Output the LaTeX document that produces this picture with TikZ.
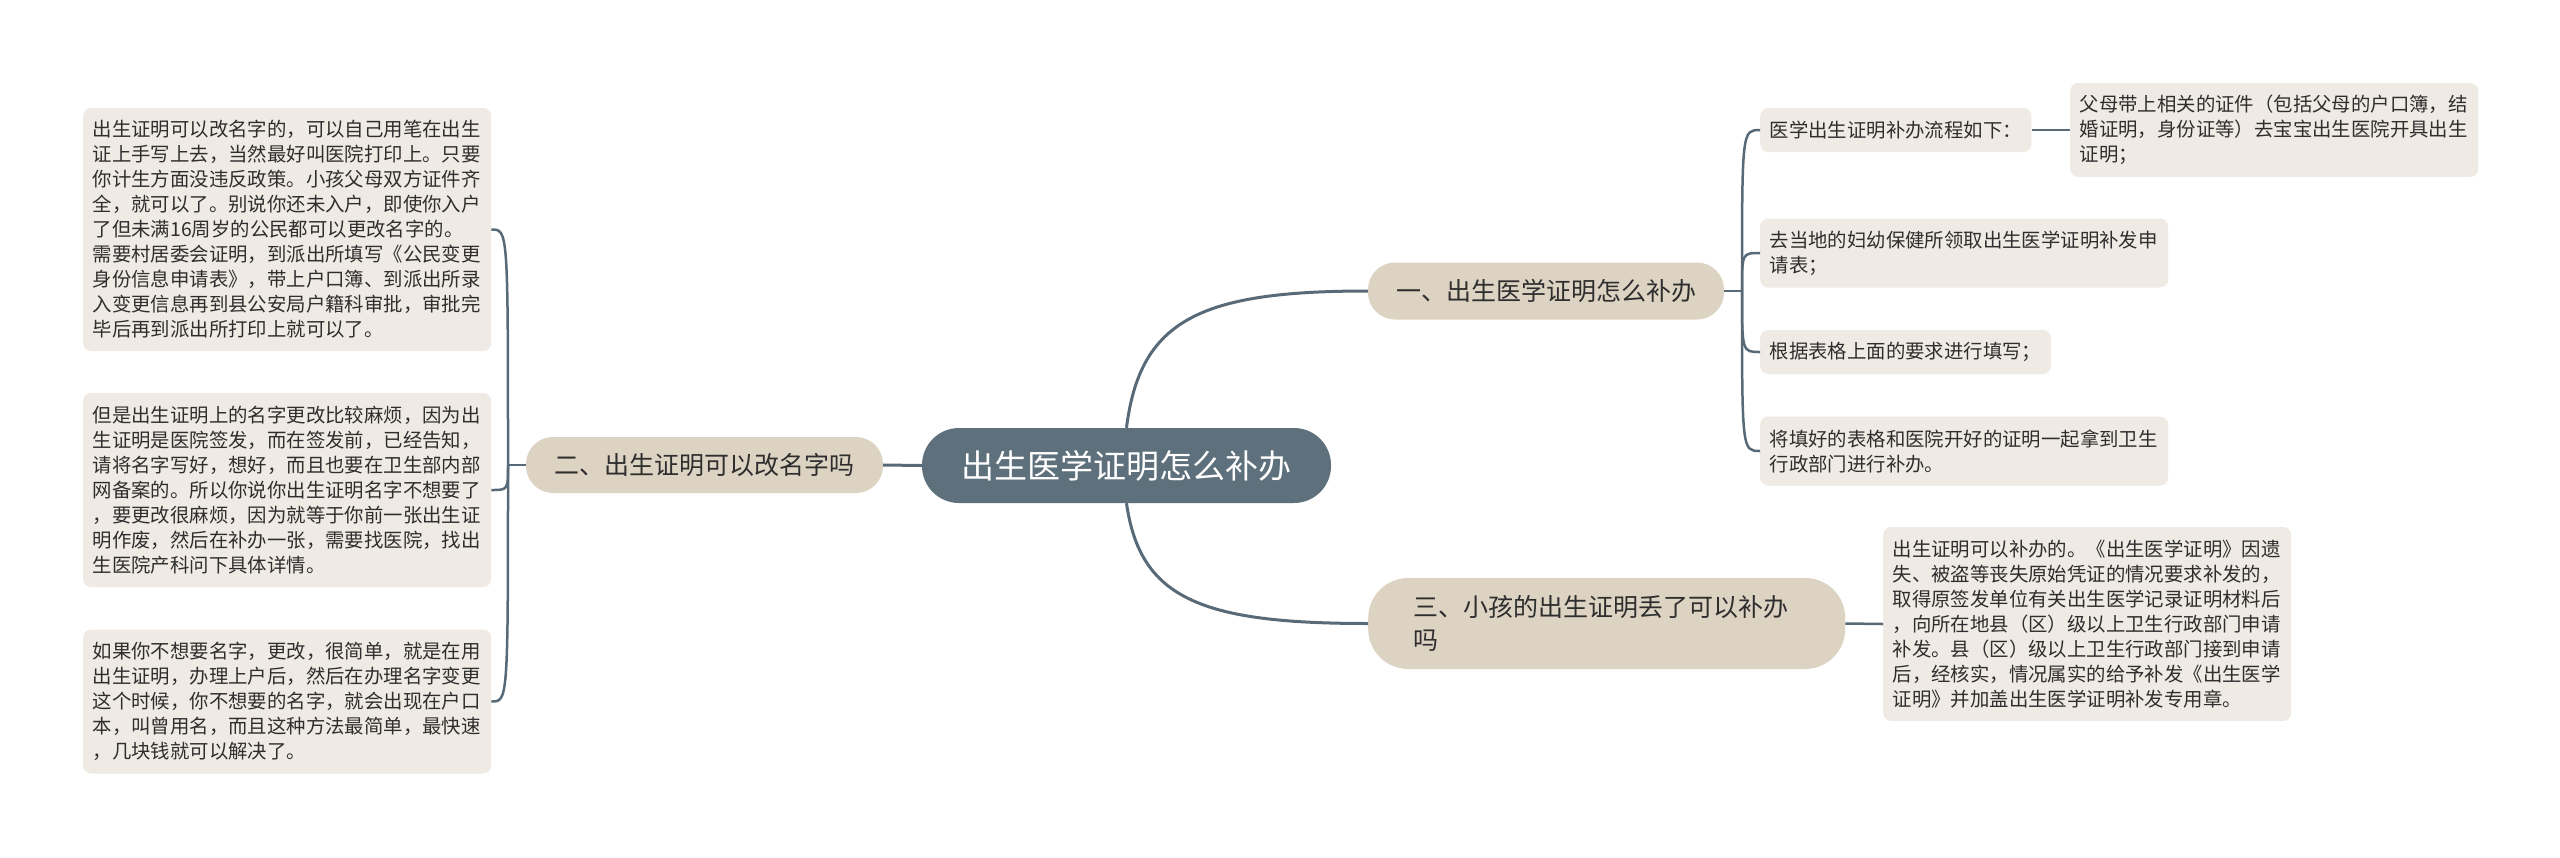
\documentclass[tikz,border=0pt]{standalone}
\usepackage{fontspec}
\newfontfamily\cjk{Noto Sans CJK SC}
\definecolor{leafc}{HTML}{EFEBE4}
\definecolor{branchc}{HTML}{DDD3C3}
\definecolor{rootc}{HTML}{5D707C}
\definecolor{linec}{HTML}{586A77}
\definecolor{txtc}{HTML}{2E2E2E}
\tikzset{
  leaf/.style={fill=leafc, rounded corners=8pt, align=left, anchor=west,
    font=\cjk\fontsize{19.4pt}{25pt}\selectfont, text=txtc,
    inner xsep=9.5pt, inner ysep=0pt},
  wide/.style={text width=389pt},
  branch/.style={fill=branchc, rounded corners=27pt, anchor=center,
    font=\cjk\fontsize{25pt}{33pt}\selectfont, text=txtc, inner sep=0pt},
  rootbox/.style={fill=rootc, rounded corners=37pt, anchor=center,
    font=\cjk\fontsize{33pt}{40pt}\selectfont, text=white, inner sep=0pt,
    minimum width=409pt, minimum height=75pt},
  mainline/.style={draw=linec, line width=3pt},
  leafline/.style={draw=linec, line width=2.5pt},
}
\begin{document}
\begin{tikzpicture}[x=1pt,y=-1pt]
\useasboundingbox[fill=white] (0,0) rectangle (2560,857);

% root and branches
\node[rootbox] (root) at (1126.5,465.5) {出生医学证明怎么补办};
\node[branch, minimum width=356pt, minimum height=57pt] (b1) at (1546,291) {一、出生医学证明怎么补办};
\node[branch, minimum width=357pt, minimum height=56pt] (b2) at (704.5,465) {二、出生证明可以改名字吗};
\node[branch, rounded corners=40pt, anchor=west, align=left, text width=387pt,
      inner xsep=45pt, inner ysep=0pt, minimum height=91pt] (b3) at (1368,623.5)
  {三、小孩的出生证明丢了可以补办\\吗};

% right leaves of branch 1
\node[leaf, minimum height=44pt] (r1a) at (1760,130) {医学出生证明补办流程如下：};
\node[leaf, wide, minimum height=94pt] (r1a1) at (2070,130)
  {父母带上相关的证件（包括父母的户口簿，结\\婚证明，身份证等）去宝宝出生医院开具出生\\证明；};
\node[leaf, wide, minimum height=69pt] (r1b) at (1760,253)
  {去当地的妇幼保健所领取出生医学证明补发申\\请表；};
\node[leaf, minimum height=44pt] (r1c) at (1760,352) {根据表格上面的要求进行填写；};
\node[leaf, wide, minimum height=69pt] (r1d) at (1760,451)
  {将填好的表格和医院开好的证明一起拿到卫生\\行政部门进行补办。};

% leaf of branch 3
\node[leaf, wide, minimum height=194pt] (r3a) at (1883,624)
  {出生证明可以补办的。《出生医学证明》因遗\\失、被盗等丧失原始凭证的情况要求补发的，\\取得原签发单位有关出生医学记录证明材料后\\，向所在地县（区）级以上卫生行政部门申请\\补发。县（区）级以上卫生行政部门接到申请\\后，经核实，情况属实的给予补发《出生医学\\证明》并加盖出生医学证明补发专用章。};

% left leaves of branch 2
\node[leaf, wide, minimum height=243pt] (l1) at (83,229.5)
  {出生证明可以改名字的，可以自己用笔在出生\\证上手写上去，当然最好叫医院打印上。只要\\你计生方面没违反政策。小孩父母双方证件齐\\全，就可以了。别说你还未入户，即使你入户\\了但未满16周岁的公民都可以更改名字的。\\需要村居委会证明，到派出所填写《公民变更\\身份信息申请表》，带上户口簿、到派出所录\\入变更信息再到县公安局户籍科审批，审批完\\毕后再到派出所打印上就可以了。};
\node[leaf, wide, minimum height=194pt] (l2) at (83,490)
  {但是出生证明上的名字更改比较麻烦，因为出\\生证明是医院签发，而在签发前，已经告知，\\请将名字写好，想好，而且也要在卫生部内部\\网备案的。所以你说你出生证明名字不想要了\\，要更改很麻烦，因为就等于你前一张出生证\\明作废，然后在补办一张，需要找医院，找出\\生医院产科问下具体详情。};
\node[leaf, wide, minimum height=144pt] (l3) at (83,701.5)
  {如果你不想要名字，更改，很简单，就是在用\\出生证明，办理上户后，然后在办理名字变更\\这个时候，你不想要的名字，就会出现在户口\\本，叫曾用名，而且这种方法最简单，最快速\\，几块钱就可以解决了。};

% junctions
\coordinate (j1) at (1742,291);
\coordinate (j2) at (508,465);

% main connectors
\draw[mainline] (root.north) .. controls +(13.5,-108) and +(-168,0) .. (b1.west);
\draw[mainline] (root.south) .. controls +(13.5,95) and +(-168,0) .. (b3.west);
\draw[mainline] (root.west) -- (b2.east);

% branch 1 to leaves
\draw[leafline] (b1.east) -- (j1);
\foreach \n in {r1a,r1b,r1c,r1d}
  \draw[leafline] (j1) .. controls (j1 |- \n.west) and (j1 |- \n.west) .. (\n.west);
\draw[leafline] (r1a.east) -- (r1a1.west);

% branch 3 to leaf
\draw[leafline] (b3.east) -- (r3a.west);

% branch 2 to leaves
\draw[leafline] (b2.west) -- (j2);
\foreach \n in {l1,l2,l3}
  \draw[leafline] (j2) .. controls (j2 |- \n.east) and (j2 |- \n.east) .. (\n.east);
\end{tikzpicture}
\end{document}
